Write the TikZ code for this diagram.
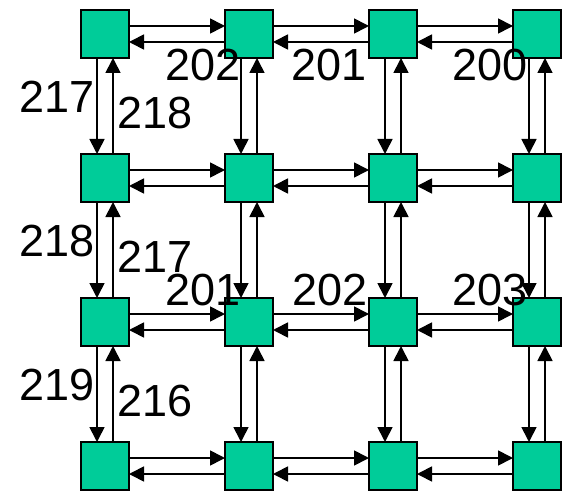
\documentclass[tikz,border=0pt]{standalone}
\usepackage{fontspec}
\setmainfont{Liberation Sans}
\usetikzlibrary{arrows.meta}
\definecolor{boxgreen}{RGB}{0,204,153}
\begin{document}
\begin{tikzpicture}[x=1pt,y=-1pt,
  cell/.style={draw=black,line width=1.6pt,fill=boxgreen,minimum size=48pt,inner sep=0pt,outer sep=0pt},
  arr/.style={line width=1.7pt,-{Triangle[length=15pt,width=15pt]}},
  lab/.style={inner sep=0pt,font=\fontsize{45}{45}\selectfont}]
\useasboundingbox (0,0) rectangle (568,492);
\foreach \r/\y in {1/34,2/178,3/322,4/466}{
  \foreach \c/\x in {1/105,2/249,3/393,4/537}{
    \node[cell] (n\r\c) at (\x,\y) {};
  }
}
% horizontal arrows
\foreach \r in {1,2,3,4}{
  \foreach \c/\d in {1/2,2/3,3/4}{
    \draw[arr] ([yshift=8pt]n\r\c.east) -- ([yshift=8pt]n\r\d.west);
    \draw[arr] ([yshift=-8pt]n\r\d.west) -- ([yshift=-8pt]n\r\c.east);
  }
}
% vertical arrows
\foreach \c in {1,2,3,4}{
  \foreach \r/\s in {1/2,2/3,3/4}{
    \draw[arr] ([xshift=-8pt]n\r\c.south) -- ([xshift=-8pt]n\s\c.north);
    \draw[arr] ([xshift=8pt]n\s\c.north) -- ([xshift=8pt]n\r\c.south);
  }
}
% labels
\node[lab] (l1) at (57,97) {217};
\node[lab] (l2) at (155,113) {218};
\node[lab] (l3) at (57,241) {218};
\node[lab] (l4) at (155,257) {217};
\node[lab] (l5) at (57,385) {219};
\node[lab] (l6) at (155,401) {216};
\node[lab] (l7) at (203,65) {202};
\node[lab] (l8) at (329,65) {201};
\node[lab] (l9) at (490,65) {200};
\node[lab] (l10) at (203,290) {201};
\node[lab] (l11) at (330,290) {202};
\node[lab] (l12) at (490,290) {203};
\end{tikzpicture}
\end{document}
